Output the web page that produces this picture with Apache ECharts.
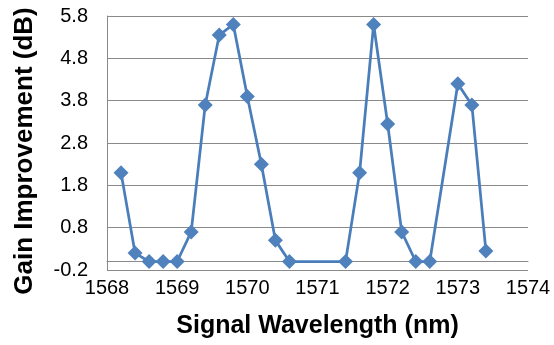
<!DOCTYPE html>
<html>
<head>
<meta charset="utf-8">
<script src="https://cdn.jsdelivr.net/npm/echarts@6/dist/echarts.min.js"></script>
<style>
html,body{margin:0;padding:0;background:#fff;}
#chart{width:554px;height:345px;}
</style>
</head>
<body>
<div id="chart"></div>
<script>
var wavelengths = [1568.2, 1568.4, 1568.6, 1568.8, 1569.0, 1569.2, 1569.4, 1569.6, 1569.8, 1570.0, 1570.2, 1570.4, 1570.6, 1571.4, 1571.6, 1571.8, 1572.0, 1572.2, 1572.4, 1572.6, 1573.0, 1573.2, 1573.4];
var gains = [2.1, 0.2, 0, 0, 0, 0.7, 3.7, 5.35, 5.6, 3.9, 2.3, 0.5, 0, 0, 2.1, 5.6, 3.25, 0.7, 0, 0, 4.2, 3.7, 0.25];
var xTitle = 'Signal Wavelength (nm)';
var yTitle = 'Gain Improvement (dB)';

var pts = wavelengths.map(function (w, i) { return [w, gains[i]]; });
var FONT = '"Liberation Sans", Arial, sans-serif';
var GRID = '#8a8a8a';

var chart = echarts.init(document.getElementById('chart'), null, {renderer: 'canvas'});
chart.setOption({
  animation: false,
  backgroundColor: '#fff',
  grid: {left: 107, right: 26, top: 16, bottom: 75, containLabel: false, outerBoundsMode: 'none'},
  xAxis: {
    type: 'value', min: 1568, max: 1574, interval: 1,
    name: xTitle, nameLocation: 'middle', nameGap: 44,
    nameTextStyle: {fontFamily: FONT, fontWeight: 'bold', fontSize: 25, color: '#000'},
    axisLine: {show: true, lineStyle: {color: GRID, width: 1}},
    axisTick: {show: false},
    axisLabel: {fontFamily: FONT, fontSize: 20, color: '#000', margin: 8,
      formatter: function (v) { return String(Math.round(v)); }},
    splitLine: {show: false}
  },
  yAxis: {
    type: 'value', min: -0.2, max: 5.8, interval: 1,
    name: yTitle, nameLocation: 'middle', nameGap: 69,
    nameTextStyle: {fontFamily: FONT, fontWeight: 'bold', fontSize: 26, color: '#000', padding: [0, 16, 0, 0]},
    axisLine: {show: true, lineStyle: {color: GRID, width: 1}},
    axisTick: {show: false},
    axisLabel: {fontFamily: FONT, fontSize: 20, color: '#000', margin: 19,
      formatter: function (v) { return (Math.round(v * 10) / 10).toFixed(1); }},
    splitLine: {show: true, lineStyle: {color: GRID, width: 1}}
  },
  series: [{
    type: 'line',
    data: pts,
    symbol: 'diamond',
    symbolSize: 15,
    showAllSymbol: true,
    lineStyle: {color: '#4A7EBB', width: 2.75},
    itemStyle: {color: '#4F81BD', borderWidth: 0},
    markLine: {
      silent: true, symbol: 'none', label: {show: false},
      lineStyle: {color: GRID, width: 1, type: 'solid'},
      data: [{yAxis: 0}],
      z: 1
    }
  }]
});
</script>
</body>
</html>
